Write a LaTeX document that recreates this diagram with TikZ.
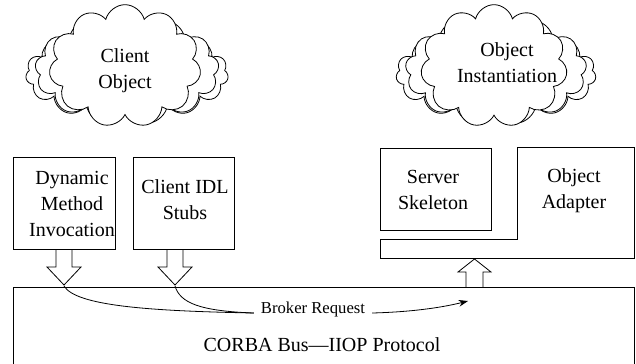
\documentclass[tikz,border=0pt]{standalone}
\usepackage{fontspec}
\setmainfont{Liberation Serif}
\usetikzlibrary{shapes.symbols,arrows.meta}
\begin{document}
\begin{tikzpicture} [x = 0.75pt, y = -0.75pt, line width = 0.6pt,
	puff/.style = {cloud, draw, fill = white, cloud ignores aspect, inner sep = 0pt},
	txt/.style = {align = center, inner sep = 0pt, font = \fontsize{15}{19.5}\selectfont}]
	\useasboundingbox (0,0) rectangle (636,364);
	% clouds
	\node [puff, cloud puffs = 15, minimum width = 152pt, minimum height = 72pt] (cbackA) at (127,74) {};
	\node [puff, cloud puffs = 13, minimum width = 138pt, minimum height = 82pt] (cbackB) at (127,70) {};
	\node [puff, cloud puffs = 11, minimum width = 114pt, minimum height = 92pt] (cfront) at (125,66) {};
	\node [txt] (cobj) at (125,71) {Client\\Object};
	\node [puff, cloud puffs = 15, minimum width = 150pt, minimum height = 72pt] (obackA) at (496,74) {};
	\node [puff, cloud puffs = 13, minimum width = 136pt, minimum height = 82pt] (obackB) at (496,70) {};
	\node [puff, cloud puffs = 11, minimum width = 110pt, minimum height = 92pt] (ofront) at (494,66) {};
	\node [txt] (oinst) at (507,63) {Object\\Instantiation};
	% client side
	\draw (13,157) rectangle (115,249);
	\node [txt] (dmi) at (72,204) {Dynamic\\Method\\Invocation};
	\draw (133,157) rectangle (234,249);
	\node [txt] (stubs) at (185,200) {Client IDL\\Stubs};
	\draw (56,249) -- (56,267) -- (47,267) -- (64,285) -- (81,267) -- (72,267) -- (72,249);
	\draw (167,249) -- (167,267) -- (158,267) -- (175,285) -- (192,267) -- (183,267) -- (183,249);
	\coordinate (dmiTip) at (64,286);
	\coordinate (stubTip) at (175,286);
	% server side
	\draw (380,148) rectangle (491,230);
	\node [txt] (skel) at (433,190) {Server\\Skeleton};
	\draw (380,239) -- (517,239) -- (517,147) -- (634,147) -- (634,258) -- (380,258) -- cycle;
	\node [txt] (adapt) at (574,191) {Object\\Adapter};
	\draw (466,287) -- (466,272) -- (458,272) -- (474.5,259) -- (491,272) -- (483,272) -- (483,287);
	% bus
	\draw (13,380) -- (13,287) -- (634,287) -- (634,380);
	\node [txt] (bus) at (322,345) {CORBA Bus---IIOP Protocol};
	\node [inner xsep = 5pt, inner ysep = 0pt, font = \fontsize{12.5}{15}\selectfont] (broker) at (313,309) {Broker Request};
	\coordinate (busTarget) at (468,301);
	\draw (dmiTip) .. controls (76,306) and (150,311) .. (broker.base west);
	\draw (stubTip) .. controls (180,303) and (200,311) .. (broker.base west);
	\draw [-{Stealth[length = 7pt, width = 5pt]}] (broker.base east) .. controls (410,312) and (440,308) .. (busTarget);
\end{tikzpicture}
\end{document}
